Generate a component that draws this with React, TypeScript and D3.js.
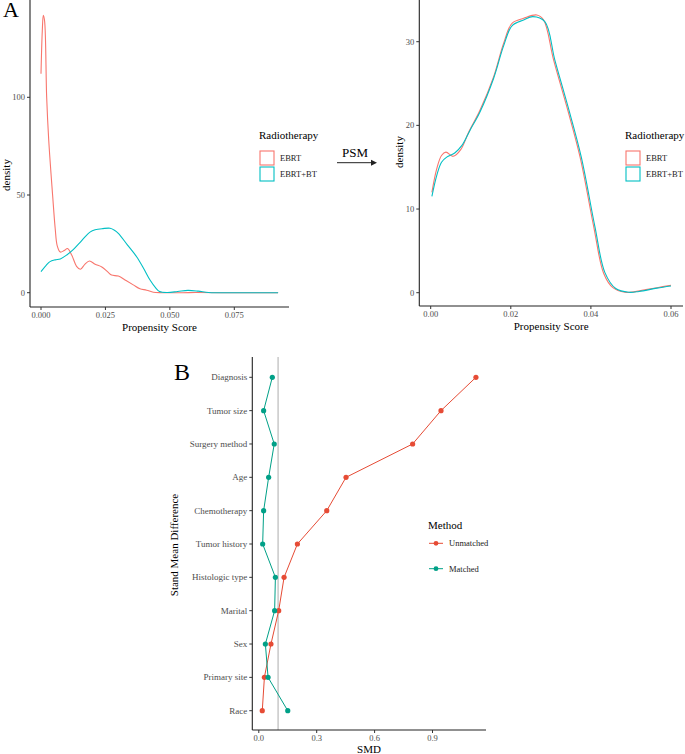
import React from "react";
import * as d3 from "d3";

// ---------- Panel A data (density curves) ----------
const groups = ["EBRT", "EBRT+BT"];
const colorsA = ["#F8766D", "#00BFC4"];

const beforeEbrtX = [0, 0.0005, 0.0009, 0.0014, 0.0022, 0.003, 0.0045, 0.0055, 0.0063, 0.0075, 0.009, 0.0103, 0.012, 0.0138, 0.0153, 0.017, 0.0188, 0.021, 0.0236, 0.026, 0.0274, 0.03, 0.033, 0.0358, 0.0384, 0.041, 0.0436, 0.047, 0.055, 0.06, 0.07, 0.092];
const beforeEbrtY = [112, 134, 142, 139, 100, 78, 50, 33, 24, 20.8, 21.6, 22.6, 19, 13.5, 12, 14.5, 16.2, 14.6, 13.2, 10.5, 9, 8.5, 6.2, 4, 2, 1.3, 0.2, 0, 0, 0.1, 0, 0];
const beforeBtX = [0, 0.002, 0.0035, 0.0055, 0.0075, 0.01, 0.0125, 0.015, 0.017, 0.019, 0.021, 0.024, 0.0268, 0.0285, 0.03, 0.0335, 0.0371, 0.04, 0.0423, 0.0445, 0.046, 0.049, 0.053, 0.057, 0.061, 0.065, 0.07, 0.092];
const beforeBtY = [10.8, 14, 15.9, 16.8, 17.3, 19.3, 22, 25.5, 28.5, 31, 32.2, 32.8, 33, 32, 30.4, 24.5, 18.4, 12, 6.5, 2.5, 0.6, 0.1, 0.6, 1.2, 0.8, 0.1, 0, 0];

const afterEbrtX = [0.0003, 0.0015, 0.0027, 0.0038, 0.0056, 0.0075, 0.0095, 0.0123, 0.0157, 0.0182, 0.0203, 0.0232, 0.0265, 0.0282, 0.0307, 0.034, 0.0373, 0.0407, 0.0432, 0.0455, 0.0485, 0.0507, 0.0535, 0.0565, 0.06];
const afterEbrtY = [12, 14.8, 16.4, 16.8, 16.3, 17.1, 19.2, 21.8, 25.8, 29.8, 32.2, 32.8, 33.2, 32.6, 27.8, 22.2, 16.2, 7.9, 2.3, 0.6, 0.05, 0.1, 0.35, 0.6, 0.9];
const afterBtX = [0.0003, 0.0015, 0.0027, 0.004, 0.006, 0.0078, 0.0098, 0.0123, 0.0157, 0.0182, 0.0203, 0.0232, 0.0255, 0.0285, 0.031, 0.0343, 0.0376, 0.041, 0.0435, 0.0462, 0.0495, 0.052, 0.0565, 0.06];
const afterBtY = [11.5, 14, 15.6, 16.2, 16.7, 17.6, 19.4, 21.6, 25.6, 29.5, 31.9, 32.6, 33.0, 32.4, 27.8, 22.2, 16.2, 7.9, 2.4, 0.5, 0.05, 0.15, 0.55, 0.8];

const beforeXTicks = [0, 0.025, 0.05, 0.075];
const beforeXLabels = ["0.000", "0.025", "0.050", "0.075"];
const beforeYTicks = [0, 50, 100];
const afterXTicks = [0, 0.02, 0.04, 0.06];
const afterXLabels = ["0.00", "0.02", "0.04", "0.06"];
const afterYTicks = [0, 10, 20, 30];

// ---------- Panel B data ----------
const covariates = ["Diagnosis", "Tumor size", "Surgery method", "Age", "Chemotherapy", "Tumor history", "Histologic type", "Marital", "Sex", "Primary site", "Race"];
const unmatched = [1.125, 0.944, 0.797, 0.452, 0.352, 0.2, 0.131, 0.103, 0.063, 0.029, 0.018];
const matched = [0.07, 0.025, 0.08, 0.051, 0.025, 0.02, 0.086, 0.082, 0.034, 0.048, 0.15];
const methods = ["Unmatched", "Matched"];
const colorsB = ["#E64B35", "#00A087"];
const smdTicks = [0, 0.3, 0.6, 0.9];
const smdLabels = ["0.0", "0.3", "0.6", "0.9"];
const threshold = 0.1;

const FONT = "'Liberation Serif', 'Times New Roman', serif";
const TICK_COL = "#4D4D4D";

function zip(xs: number[], ys: number[]): [number, number][] {
  return xs.map((x, i) => [x, ys[i]]);
}

function DensityPanel(props: {
  x0: number; x1: number; y0: number; y1: number;
  xDomain: [number, number]; xRange: [number, number];
  yDomain: [number, number]; yRange: [number, number];
  series: [number, number][][];
  xTicks: number[]; xLabels: string[]; yTicks: number[];
}) {
  const { x0, x1, y0, y1, series, xTicks, xLabels, yTicks } = props;
  const x = d3.scaleLinear().domain(props.xDomain).range(props.xRange);
  const y = d3.scaleLinear().domain(props.yDomain).range(props.yRange);
  const line = d3.line<[number, number]>().x(d => x(d[0])).y(d => y(d[1])).curve(d3.curveCatmullRom.alpha(0.5));
  return (
    <g>
      {series.map((s, i) => (
        <path key={i} d={line(s) || ""} fill="none" stroke={colorsA[i]} strokeWidth={1.1} />
      ))}
      <line x1={x0} x2={x1} y1={y1} y2={y1} stroke="#222" strokeWidth={1.1} />
      <line x1={x0} x2={x0} y1={y0} y2={y1} stroke="#222" strokeWidth={1.1} />
      {xTicks.map((t, i) => (
        <g key={"x" + i}>
          <line x1={x(t)} x2={x(t)} y1={y1} y2={y1 + 3} stroke="#333" />
          <text x={x(t)} y={y1 + 11} textAnchor="middle" fontSize={8.5} fill={TICK_COL} fontFamily={FONT}>{xLabels[i]}</text>
        </g>
      ))}
      {yTicks.map((t, i) => (
        <g key={"y" + i}>
          <line x1={x0 - 3} x2={x0} y1={y(t)} y2={y(t)} stroke="#333" />
          <text x={x0 - 5} y={y(t) + 3} textAnchor="end" fontSize={8.5} fill={TICK_COL} fontFamily={FONT}>{t}</text>
        </g>
      ))}
      <text x={(x0 + x1) / 2} y={y1 + 24} textAnchor="middle" fontSize={11} fontFamily={FONT}>Propensity Score</text>
    </g>
  );
}

function LegendA(props: { x: number; y: number }) {
  const { x, y } = props;
  return (
    <g fontFamily={FONT}>
      <text x={x} y={y} fontSize={11}>Radiotherapy</text>
      {groups.map((g, i) => (
        <g key={g}>
          <rect x={x + 1} y={y + 12 + i * 16} width={14} height={14} fill="white" stroke={colorsA[i]} strokeWidth={1.1} />
          <text x={x + 21} y={y + 22 + i * 16} fontSize={8.5} fill="#222">{g}</text>
        </g>
      ))}
    </g>
  );
}

export default function App() {
  // Panel B scales
  const xB = d3.scaleLinear().domain([0, 0.9]).range([258.8, 432.5]);
  const yB = d3.scalePoint<string>().domain(covariates).range([377.3, 710.7]);
  const lineB = d3.line<[string, number]>().x(d => xB(d[1])).y(d => yB(d[0]) as number);
  const seriesB = [unmatched, matched];
  const bx0 = 252.3, bx1 = 486, by0 = 357, by1 = 730;

  return (
    <svg width={685} height={754} style={{ position: "absolute", left: 0, top: 0, background: "white" }}>
      <rect width={685} height={754} fill="white" />
      {/* Panel A */}
      <text x={3} y={17} fontSize={22} fontFamily={FONT}>A</text>
      <text x={10} y={175} fontSize={11} fontFamily={FONT} textAnchor="middle" transform="rotate(-90 10 175)">density</text>
      <DensityPanel
        x0={30} x1={289} y0={0} y1={307}
        xDomain={[0, 0.075]} xRange={[41, 234.3]}
        yDomain={[0, 100]} yRange={[292.7, 97.3]}
        series={[zip(beforeEbrtX, beforeEbrtY), zip(beforeBtX, beforeBtY)]}
        xTicks={beforeXTicks} xLabels={beforeXLabels} yTicks={beforeYTicks}
      />
      <LegendA x={259} y={139} />

      <text x={355} y={157} fontSize={13} fontFamily={FONT} textAnchor="middle">PSM</text>
      <line x1={337} x2={372} y1={162.7} y2={162.7} stroke="#222" strokeWidth={1} />
      <path d="M371,159.7 L377,162.7 L371,165.7 Z" fill="#222" />

      <text x={403} y={152} fontSize={11} fontFamily={FONT} textAnchor="middle" transform="rotate(-90 403 152)">density</text>
      <DensityPanel
        x0={419.3} x1={683} y0={0} y1={306}
        xDomain={[0, 0.06]} xRange={[430.7, 671]}
        yDomain={[0, 30]} yRange={[292.7, 41.7]}
        series={[zip(afterEbrtX, afterEbrtY), zip(afterBtX, afterBtY)]}
        xTicks={afterXTicks} xLabels={afterXLabels} yTicks={afterYTicks}
      />
      <LegendA x={625} y={139} />

      {/* Panel B */}
      <text x={174} y={380} fontSize={24} fontFamily={FONT}>B</text>
      <line x1={xB(threshold)} x2={xB(threshold)} y1={by0} y2={by1} stroke="#C8C8C8" strokeWidth={1.5} />
      {seriesB.map((vals, i) => {
        const pts: [string, number][] = covariates.map((c, j) => [c, vals[j]]);
        return (
          <g key={methods[i]}>
            <path d={lineB(pts) || ""} fill="none" stroke={colorsB[i]} strokeWidth={1} />
            {pts.map((p, j) => (
              <circle key={j} cx={xB(p[1])} cy={yB(p[0]) as number} r={2.6} fill={colorsB[i]} />
            ))}
          </g>
        );
      })}
      <line x1={bx0} x2={bx1} y1={by1} y2={by1} stroke="#222" strokeWidth={1.1} />
      <line x1={bx0} x2={bx0} y1={by0} y2={by1} stroke="#222" strokeWidth={1.1} />
      {smdTicks.map((t, i) => (
        <g key={"sx" + i}>
          <line x1={xB(t)} x2={xB(t)} y1={by1} y2={by1 + 3} stroke="#333" />
          <text x={xB(t)} y={by1 + 10.5} textAnchor="middle" fontSize={8.5} fill={TICK_COL} fontFamily={FONT}>{smdLabels[i]}</text>
        </g>
      ))}
      {covariates.map(c => (
        <g key={c}>
          <line x1={bx0 - 3} x2={bx0} y1={yB(c) as number} y2={yB(c) as number} stroke="#333" />
          <text x={bx0 - 5} y={(yB(c) as number) + 3} textAnchor="end" fontSize={9} fill={TICK_COL} fontFamily={FONT}>{c}</text>
        </g>
      ))}
      <text x={369} y={753} textAnchor="middle" fontSize={11} fontFamily={FONT}>SMD</text>
      <text x={178} y={545} fontSize={11} fontFamily={FONT} textAnchor="middle" transform="rotate(-90 178 545)">Stand Mean Difference</text>

      <g fontFamily={FONT}>
        <text x={428} y={529} fontSize={11}>Method</text>
        {methods.map((m, i) => (
          <g key={m}>
            <line x1={429} x2={443} y1={543.3 + i * 25.4} y2={543.3 + i * 25.4} stroke={colorsB[i]} strokeWidth={1} />
            <circle cx={436} cy={543.3 + i * 25.4} r={2.4} fill={colorsB[i]} />
            <text x={449} y={546.3 + i * 25.4} fontSize={8.5} fill="#222">{m}</text>
          </g>
        ))}
      </g>
    </svg>
  );
}
